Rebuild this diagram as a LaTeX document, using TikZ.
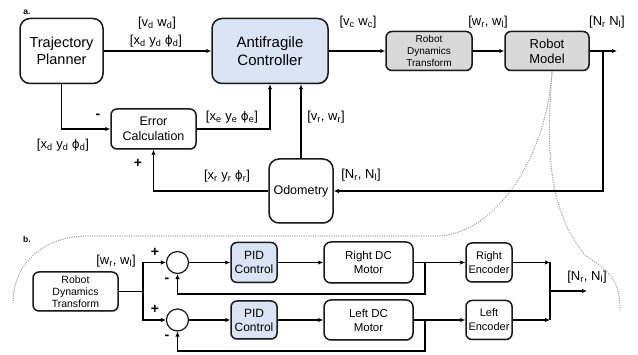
\documentclass[tikz,border=0pt]{standalone}
\usepackage{fontspec}
\setmainfont{Liberation Sans}
\newfontfamily\phifont{DejaVu Sans}
\usetikzlibrary{arrows.meta,calc,shadows}
\definecolor{acblue}{RGB}{219,228,244}
\definecolor{boxgray}{RGB}{217,217,217}
\definecolor{dotgray}{RGB}{160,160,160}
\newcommand\mysub[1]{\textsubscript{#1}}
\newcommand\myphi{{\phifont\fontsize{12}{14}\selectfont ϕ}}
\begin{document}
\begin{tikzpicture}[x=1pt,y=-1pt,
  box/.style={draw=black!90, line width=1.5pt, rounded corners=7pt, align=center, inner sep=1pt, fill=white,
    drop shadow={shadow xshift=0.8pt, shadow yshift=-0.8pt, opacity=0.35}},
  arr/.style={line width=1.2pt, -{Latex[length=5pt,width=4.5pt]}},
  ln/.style={line width=1.2pt},
  lbl/.style={font=\fontsize{13}{15}\selectfont, inner sep=0pt},
  sgn/.style={font=\fontsize{14}{14}\selectfont\bfseries, inner sep=0pt},
  tag/.style={font=\fontsize{8.5}{10}\selectfont\bfseries, inner sep=0pt},
  dots/.style={draw=dotgray, line width=1.4pt, dash pattern=on 0.1pt off 2.2pt, line cap=round}
]
\useasboundingbox (0,0) rectangle (638,355);

% ---------- dotted zoom curves (behind) ----------
\coordinate (z0) at (552,72);
\coordinate (z1) at (440,236);
\coordinate (z2) at (85,236);
\coordinate (z3) at (13,303);
\coordinate (z4) at (585,255);
\coordinate (z5) at (620,310);
\draw[dots] (z0) .. controls (546,160) and (495,232) .. (z1) -- (z2)
  .. controls (45,237) and (13,262) .. (z3);
\draw[dots] (z0) .. controls (546,150) and (548,210) .. (z4)
  .. controls (610,272) and (620,280) .. (z5);

% ---------- part a ----------
\node[tag] (ta) at (27,12) {a.};
\node[box, minimum width=83pt, minimum height=65pt, rounded corners=10pt, font=\fontsize{14.5}{17}\selectfont] (tp) at (61.5,51) {Trajectory\\Planner};
\node[box, fill=acblue, minimum width=116pt, minimum height=65pt, rounded corners=10pt, font=\fontsize{15}{18}\selectfont] (ac) at (270,51) {Antifragile\\Controller};
\node[box, minimum width=85pt, minimum height=40pt, rounded corners=6pt, font=\fontsize{12.5}{15}\selectfont] (ec) at (153.5,129) {Error\\Calculation};
\node[box, minimum width=64pt, minimum height=64pt, rounded corners=10pt, font=\fontsize{12.5}{15}\selectfont] (odo) at (301,191) {Odometry};
\node[box, fill=boxgray, minimum width=86pt, minimum height=39pt, rounded corners=6pt, font=\fontsize{10}{11.8}\selectfont] (rdt) at (429,51) {Robot\\Dynamics\\Transform};
\node[box, fill=boxgray, minimum width=84pt, minimum height=39pt, rounded corners=6pt, font=\fontsize{13}{15}\selectfont] (rm) at (547,51) {Robot\\Model};

\coordinate (outa) at (617,51);
\coordinate (bra) at (603,51);

\draw[arr] (tp.east) -- (ac.west);
\draw[arr] (tp.south) |- (ec.west);
\draw[arr] (ec.east) -| (ac.south);
\draw[arr] (odo.north) -- (odo.north |- ac.south);
\draw[arr] (odo.west) -| (ec.south);
\draw[arr] (ac.east) -- (rdt.west);
\draw[arr] (rdt.east) -- (rm.west);
\draw[arr] (rm.east) -- (outa);
\draw[arr] (bra) |- (odo.east);

\node[lbl] (l1) at (157,23) {[v\mysub{d} w\mysub{d}]};
\node[lbl] (l2) at (156,41) {[x\mysub{d} y\mysub{d} \myphi\mysub{d}]};
\node[lbl] (l3) at (63,145) {[x\mysub{d} y\mysub{d} \myphi\mysub{d}]};
\node[lbl] (l4) at (232,117) {[x\mysub{e} y\mysub{e} \myphi\mysub{e}]};
\node[lbl] (l5) at (326,117) {[v\mysub{r}, w\mysub{r}]};
\node[lbl] (l6) at (227,176) {[x\mysub{r} y\mysub{r} \myphi\mysub{r}]};
\node[lbl] (l7) at (361,175) {[N\mysub{r}, N\mysub{l}]};
\node[lbl] (l8) at (358,22) {[v\mysub{c} w\mysub{c}]};
\node[lbl] (l9) at (488,22) {[w\mysub{r}, w\mysub{l}]};
\node[lbl] (l10) at (607,22) {[N\mysub{r} N\mysub{l}]};
\node[sgn] (m1) at (98,116) {-};
\node[sgn] (p1) at (138,163) {+};

% ---------- part b ----------
\node[tag] (tb) at (27,239) {b.};
\node[box, minimum width=85pt, minimum height=39pt, rounded corners=6pt, font=\fontsize{10.5}{12}\selectfont] (rdtb) at (75.5,291.5) {Robot\\Dynamics\\Transform};
\node[circle, draw=black!90, line width=1.2pt, minimum size=22pt, inner sep=0pt] (s1) at (177.5,262.5) {};
\node[circle, draw=black!90, line width=1.2pt, minimum size=22pt, inner sep=0pt] (s2) at (177.5,320) {};
\node[box, fill=acblue, minimum width=46pt, minimum height=40pt, rounded corners=6pt, font=\fontsize{12}{14}\selectfont] (pid1) at (254,262.5) {PID\\Control};
\node[box, fill=acblue, minimum width=46pt, minimum height=38pt, rounded corners=6pt, font=\fontsize{12}{14}\selectfont] (pid2) at (254,320) {PID\\Control};
\node[box, minimum width=89pt, minimum height=41pt, rounded corners=7pt, font=\fontsize{11.5}{14}\selectfont] (mot1) at (368.5,262.5) {Right DC\\Motor};
\node[box, minimum width=89pt, minimum height=40pt, rounded corners=7pt, font=\fontsize{11.5}{14}\selectfont] (mot2) at (368.5,320) {Left DC\\Motor};
\node[box, minimum width=46pt, minimum height=39pt, rounded corners=6pt, inner sep=0pt, font=\fontsize{11}{14}\selectfont] (enc1) at (489,262.5) {Right\\Encoder};
\node[box, minimum width=46pt, minimum height=39pt, rounded corners=6pt, inner sep=0pt, font=\fontsize{11}{14}\selectfont] (enc2) at (489,320) {Left\\Encoder};

\coordinate (brb) at (143,291.5);
\coordinate (fb1) at (425,262.5);
\coordinate (fb1d) at (425,294);
\coordinate (fb2) at (425,320);
\coordinate (fb2d) at (425,351);
\coordinate (j1) at (550,262.5);
\coordinate (j2) at (550,320);
\coordinate (jm) at (550,291);
\coordinate (outb) at (587,291);

\draw[ln] (rdtb.east) -- (brb);
\draw[arr] (brb) |- (s1.west);
\draw[arr] (brb) |- (s2.west);
\draw[arr] (s1.east) -- (pid1.west);
\draw[arr] (s2.east) -- (pid2.west);
\draw[arr] (pid1.east) -- (mot1.west);
\draw[arr] (pid2.east) -- (mot2.west);
\draw[arr] (mot1.east) -- (enc1.west);
\draw[arr] (mot2.east) -- (enc2.west);
\draw[arr] (fb1) -- (fb1d) -| (s1.south);
\draw[arr] (fb2) -- (fb2d) -| (s2.south);
\draw[arr] (enc1.east) -- (j1);
\draw[arr] (enc2.east) -- (j2);
\draw[ln] (j1) -- (j2);
\draw[arr] (jm) -- (outb);

\node[lbl] (lb1) at (116,261) {[w\mysub{r}, w\mysub{l}]};
\node[lbl] (lb2) at (587,277) {[N\mysub{r}, N\mysub{l}]};
\node[sgn] (pb1) at (155,252) {+};
\node[sgn] (mb1) at (167,280) {-};
\node[sgn] (pb2) at (155,309) {+};
\node[sgn] (mb2) at (167,337) {-};
\end{tikzpicture}
\end{document}
